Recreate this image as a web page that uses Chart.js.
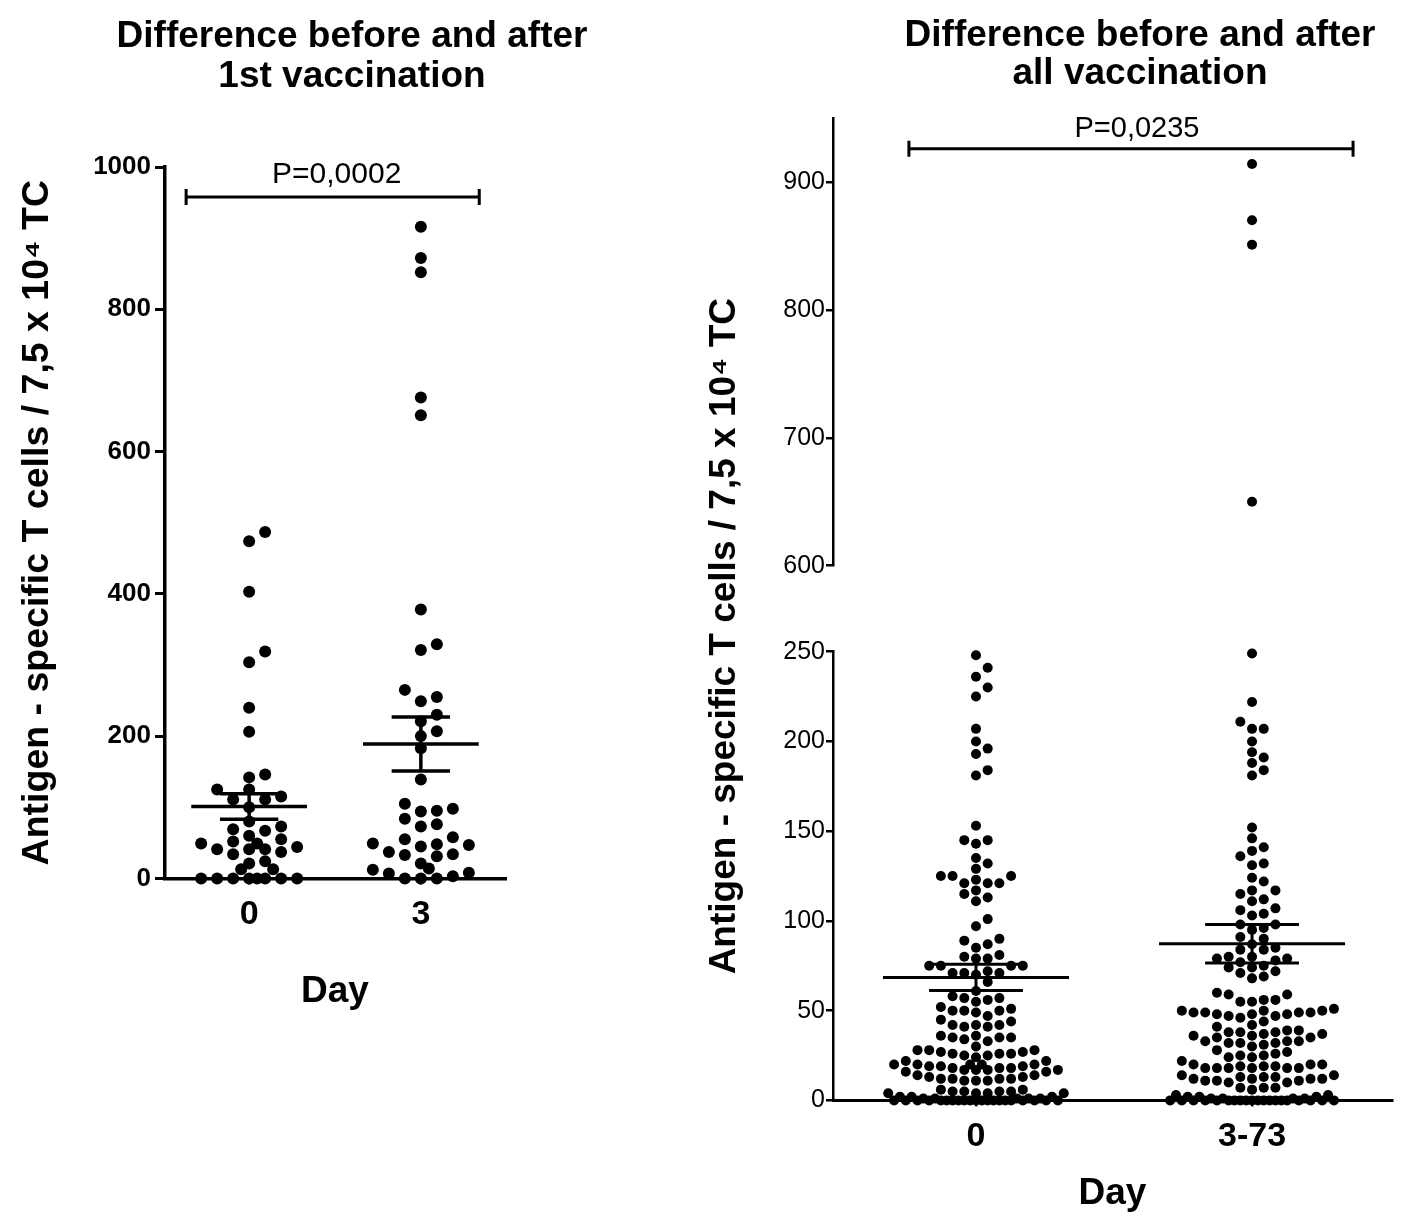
<!DOCTYPE html>
<html><head><meta charset="utf-8">
<script src="https://cdn.jsdelivr.net/npm/chart.js@4/dist/chart.umd.min.js"></script>
<style>
html,body{margin:0;padding:0;background:#fff;overflow:hidden;}
#wrap{position:relative;width:1417px;height:1232px;overflow:hidden;background:#fff;}
#c1{position:absolute;left:0;top:0;}
#c2{position:absolute;left:660px;top:0;}
</style></head><body>
<div id="wrap"><canvas id="c1" width="704" height="1232"></canvas><canvas id="c2" width="960" height="1232"></canvas></div>
<script>
// ---------- data ----------
const leftTitle = ['Difference before and after', '1st vaccination'];
const rightTitle = ['Difference before and after', 'all vaccination'];
const yAxisTitle = 'Antigen - specific T cells / 7,5 x 10\u2074 TC';
const xAxisTitle = 'Day';
const leftCategories = ['0', '3'];
const rightCategories = ['0', '3-73'];
const leftTicks = [0, 200, 400, 600, 800, 1000];
const rightLowTicks = [0, 50, 100, 150, 200, 250];
const rightHighTicks = [600, 700, 800, 900];
const rightBreak = 250;

const leftDay0 = [487, 474, 403, 319, 304, 240, 206, 146, 142, 125, 125, 115, 111, 111, 100, 80, 73, 69, 67, 60,
  55, 52, 49, 49, 44, 41, 41, 41, 37, 34, 24, 21, 13, 13, 0, 0, 0, 0, 0, 0, 0, 0];
const leftDay3 = [916, 872, 852, 676, 651, 378, 329, 321, 265, 255, 249, 230, 221, 207, 200, 183, 139, 105, 98, 95,
  94, 84, 73, 76, 55, 58, 49, 47, 48, 45, 37, 34, 33, 31, 21, 14, 12, 8, 7, 3, 0, 0, 0];

const rightDay0 = [248, 241, 236, 230, 225, 207, 200, 196, 193, 184, 181, 153, 145, 145, 143, 135, 132, 129,
  125, 125, 125, 123, 121, 121, 121, 117, 115, 113, 111, 101, 97, 90, 89, 87, 85, 81, 80, 79, 79, 75, 75, 75, 75, 72, 71, 71, 71, 70, 66,
  61, 58, 57, 57, 56, 55, 52, 51, 50, 50, 50, 49, 47, 45, 44, 42, 42, 42, 41, 41, 36, 36, 35, 35, 35, 34, 33, 30,
  28, 28, 28, 27, 27, 26, 26, 26, 25, 25, 24, 22, 22, 20, 20,
  20, 20, 20, 19, 19, 19, 18, 18, 18, 17, 17, 17, 17, 16, 16,
  14, 14, 13, 13, 12, 12, 12, 12, 11, 11, 11,
  6, 6, 5, 5, 5, 5, 4, 4, 4, 4,
  2, 2, 2, 1, 1, 1, 1, 1, 0, 0, 0, 0, 0, 0, 0, 0, 0, 0, 0, 0, 0, 0, 0, 0, 0, 0, 0, 0, 0];
const rightDay373 = [914, 870, 851, 650,
  249, 222, 211, 207, 207, 200, 194, 191, 188, 184, 181, 152, 146, 141, 139, 136, 132, 131,
  124, 122, 117, 117, 115, 112, 111, 107, 106, 104, 103, 98, 98, 96, 95, 91, 90, 87, 85, 84, 84, 80, 80, 79, 79, 78, 77, 75, 74, 74, 72, 71, 69, 68,
  60, 59, 59, 56, 56, 55, 55, 51, 50, 50, 50, 49, 49, 49, 49, 48, 48, 48, 47, 47, 46,
  44, 42, 41, 39, 39, 38, 38, 38, 37, 37, 36, 36, 35, 35, 33, 33, 33, 32, 32, 32, 31, 30,
  28, 27, 26, 25, 25, 24, 24, 22,
  20, 20, 20, 19, 19, 19, 18, 18, 18, 18, 18, 18,
  14, 14, 13, 13, 13, 12, 12, 12, 12, 11, 11, 11, 10, 10,
  7, 7, 7, 6,
  3, 3, 2, 2, 2, 1, 1, 1, 1, 0, 0, 0, 0, 0, 0, 0, 0, 0, 0, 0, 0, 0, 0, 0, 0, 0, 0, 0, 0];

const leftMeans = [101, 189];
const leftSems = [18, 38];
const rightMeans = [68.5, 87.3];
const rightSems = [7.3, 10.7];
const leftP = 'P=0,0002';
const rightP = 'P=0,0235';

// ---------- helpers ----------
const FONT = "'Liberation Sans', Arial, Helvetica, sans-serif";
Chart.defaults.font.family = FONT;
Chart.defaults.color = '#000';

function dotDataset(values, group, axisId, radius) {
  return {
    data: values.map(v => ({x: group, y: v})), yAxisID: axisId, swarmGroup: group,
    pointRadius: radius, pointHoverRadius: radius, backgroundColor: '#000', borderColor: '#000',
    pointBorderWidth: 0, borderWidth: 0, showLine: false, clip: false
  };
}
function segDataset(pts, axisId, width) {
  return {data: pts, yAxisID: axisId, showLine: true, borderColor: '#000', borderWidth: width,
    pointRadius: 0, pointHoverRadius: 0, clip: false, fill: false, tension: 0};
}
function errorBars(group, mean, sem, axisId, width) {
  const hm = 0.337, hs = 0.17;
  return [
    segDataset([{x: group - hm, y: mean}, {x: group + hm, y: mean}], axisId, width),
    segDataset([{x: group - hs, y: mean + sem}, {x: group + hs, y: mean + sem}], axisId, width),
    segDataset([{x: group - hs, y: mean - sem}, {x: group + hs, y: mean - sem}], axisId, width),
    segDataset([{x: group, y: mean - sem}, {x: group, y: mean + sem}], axisId, width)
  ];
}
function swarm(pys, step, minDist, maxK) {
  const order = pys.map((y, i) => i).sort((a, b) => pys[b] - pys[a]);
  const cols = [0];
  for (let k = 1; k <= maxK; k++) cols.push(k, -k);
  for (let k = 0; k <= maxK; k++) cols.push(k + 0.5, -(k + 0.5));
  const last = {};
  const out = new Array(pys.length);
  for (const i of order) {
    const y = pys[i];
    let chosen = null;
    for (const c of cols) {
      if (last[c] === undefined || last[c] - y >= minDist) { chosen = c; break; }
    }
    if (chosen === null) {
      let best = -Infinity;
      for (const c of cols) { const g = last[c] - y; if (g > best) { best = g; chosen = c; } }
    }
    last[chosen] = y;
    out[i] = chosen * step;
  }
  return out;
}
function applySwarm(chart, step, minDist, maxK) {
  const xs = chart.scales.x;
  const ppu = xs.getPixelForValue(1) - xs.getPixelForValue(0);
  const groups = {};
  chart.data.datasets.forEach(ds => {
    if (ds.swarmGroup === undefined) return;
    (groups[ds.swarmGroup] = groups[ds.swarmGroup] || []).push(ds);
  });
  Object.keys(groups).forEach(g => {
    const pts = [];
    groups[g].forEach(ds => {
      const ys = chart.scales[ds.yAxisID];
      ds.data.forEach((p, j) => pts.push({ds, j, py: ys.getPixelForValue(p.y)}));
    });
    const offs = swarm(pts.map(q => q.py), step, minDist, maxK);
    groups[g].forEach(ds => { ds.data = ds.data.map(p => ({x: p.x, y: p.y})); });
    pts.forEach((q, i) => { q.ds.data[q.j].x = Number(g) + offs[i] / ppu; });
  });
  chart.update('none');
}
const bracketPlugin = {
  id: 'bracket',
  afterDatasetsDraw(chart, args, o) {
    const ctx = chart.ctx, xs = chart.scales.x, ys = chart.scales[o.axis];
    const x1 = xs.getPixelForValue(o.from), x2 = xs.getPixelForValue(o.to), y = ys.getPixelForValue(o.y);
    ctx.save();
    ctx.strokeStyle = '#000'; ctx.lineWidth = o.width; ctx.beginPath();
    ctx.moveTo(x1, y); ctx.lineTo(x2, y);
    ctx.moveTo(x1, y - o.cap); ctx.lineTo(x1, y + o.cap);
    ctx.moveTo(x2, y - o.cap); ctx.lineTo(x2, y + o.cap);
    ctx.stroke();
    ctx.font = o.font; ctx.fillStyle = '#000'; ctx.textAlign = 'center'; ctx.textBaseline = 'middle';
    ctx.fillText(o.text, (x1 + x2) / 2 + o.dx, y - o.gap);
    ctx.restore();
  }
};
const sideTitlePlugin = {
  id: 'sideTitle',
  afterDraw(chart, args, o) {
    if (!o.text) return;
    const ctx = chart.ctx, a = chart.chartArea;
    ctx.save();
    ctx.translate(a.left - o.dx, (a.top + a.bottom) / 2 + o.dy);
    ctx.rotate(-Math.PI / 2);
    ctx.font = o.font; ctx.fillStyle = '#000'; ctx.textAlign = 'center'; ctx.textBaseline = 'middle';
    ctx.fillText(o.text, 0, 0);
    ctx.restore();
  }
};
function setTicks(list) { return s => { s.ticks = list.map(v => ({value: v})); }; }
function spacer(width) {
  return {type: 'linear', position: 'right', display: true, min: 0, max: 1,
    afterFit: s => { s.width = width; },
    ticks: {display: false}, grid: {display: false}, border: {display: false}};
}

// ---------- left chart ----------
const leftDatasets = [
  dotDataset(leftDay0, 0, 'y', 6),
  dotDataset(leftDay3, 1, 'y', 6),
  ...errorBars(0, leftMeans[0], leftSems[0], 'y', 3.5),
  ...errorBars(1, leftMeans[1], leftSems[1], 'y', 3.5)
];
const c1 = new Chart(document.getElementById('c1'), {
  type: 'scatter',
  data: {datasets: leftDatasets},
  plugins: [bracketPlugin],
  options: {
    responsive: false, animation: false, events: [],
    layout: {padding: {left: 0, right: 0, top: 0, bottom: 218.4}},
    plugins: {
      legend: {display: false}, tooltip: {enabled: false},
      title: {display: true, text: leftTitle, color: '#000',
        font: {size: 37, weight: 'bold', lineHeight: '40px'}, padding: {top: 17, bottom: 70}},
      bracket: {axis: 'y', from: -0.367, to: 1.34, y: 958, cap: 8, width: 3, text: leftP,
        font: "30px " + FONT, dx: 4, gap: 22}
    },
    scales: {
      x: {type: 'linear', min: -0.49, max: 1.49,
        afterBuildTicks: s => { s.ticks = leftCategories.map((c, i) => ({value: i})); },
        ticks: {callback: (v, i) => leftCategories[i], font: {size: 34, weight: 'bold'}, padding: 10,
          autoSkip: false, maxRotation: 0, color: '#000'},
        grid: {display: true, drawOnChartArea: false, drawTicks: true, tickLength: 6, color: '#000', lineWidth: 3},
        border: {display: true, color: '#000', width: 3.5},
        title: {display: true, text: xAxisTitle, color: '#000', font: {size: 37, weight: 'bold'}, padding: {top: 24, bottom: 0}}
      },
      y: {type: 'linear', position: 'left', min: 0, max: 1000,
        afterBuildTicks: setTicks(leftTicks),
        afterFit: s => { s.width = 165; },
        ticks: {callback: v => String(v), font: {size: 26, weight: 'bold'}, padding: 4, color: '#000'},
        grid: {display: true, drawOnChartArea: false, drawTicks: true, tickLength: 10, color: '#000', lineWidth: 3},
        border: {display: true, color: '#000', width: 3.5},
        title: {display: true, text: yAxisTitle, color: '#000', font: {size: 37.5, weight: 'bold'}, padding: {top: 15.5, bottom: 0}}
      },
      pad: spacer(199)
    }
  }
});
applySwarm(c1, 16, 12, 3);

// ---------- right chart ----------
const r0Low = rightDay0.filter(v => v <= rightBreak), r0High = rightDay0.filter(v => v > rightBreak);
const r1Low = rightDay373.filter(v => v <= rightBreak), r1High = rightDay373.filter(v => v > rightBreak);
const rightDatasets = [
  dotDataset(r0Low, 0, 'yLow', 5), dotDataset(r0High, 0, 'yHigh', 5),
  dotDataset(r1Low, 1, 'yLow', 5), dotDataset(r1High, 1, 'yHigh', 5),
  ...errorBars(0, rightMeans[0], rightSems[0], 'yLow', 3),
  ...errorBars(1, rightMeans[1], rightSems[1], 'yLow', 3)
];
const yStyle = (ticks) => ({
  type: 'linear', position: 'left', stack: 'r',
  afterBuildTicks: setTicks(ticks),
  afterFit: s => { s.width = 173; },
  ticks: {callback: v => String(v), font: {size: 25}, padding: 1, color: '#000'},
  grid: {display: true, drawOnChartArea: false, drawTicks: true, tickLength: 7, color: '#000', lineWidth: 2.5},
  border: {display: true, color: '#000', width: 2.5}
});
const c2 = new Chart(document.getElementById('c2'), {
  type: 'scatter',
  data: {datasets: rightDatasets},
  plugins: [bracketPlugin, sideTitlePlugin],
  options: {
    responsive: false, animation: false, events: [],
    layout: {padding: {left: 0, right: 0, top: 0, bottom: 16.4}},
    plugins: {
      legend: {display: false}, tooltip: {enabled: false},
      title: {display: true, text: rightTitle, color: '#000',
        font: {size: 37, weight: 'bold', lineHeight: '38px'}, padding: {top: 17, bottom: 25}},
      bracket: {axis: 'yHigh', from: -0.243, to: 1.366, y: 926, cap: 8, width: 3, text: rightP,
        font: "29px " + FONT, dx: 6, gap: 20},
      sideTitle: {text: yAxisTitle, font: "bold 37px " + FONT, dx: 108, dy: 27}
    },
    scales: {
      x: {type: 'linear', min: -0.518, max: 1.507,
        afterBuildTicks: s => { s.ticks = rightCategories.map((c, i) => ({value: i})); },
        ticks: {callback: (v, i) => rightCategories[i], font: {size: 34, weight: 'bold'}, padding: 10,
          autoSkip: false, maxRotation: 0, color: '#000'},
        grid: {display: true, drawOnChartArea: false, drawTicks: true, tickLength: 6, color: '#000', lineWidth: 2.5},
        border: {display: true, color: '#000', width: 3},
        title: {display: true, text: xAxisTitle, color: '#000', font: {size: 37, weight: 'bold'}, padding: {top: 4, bottom: 0}}
      },
      yHigh: Object.assign(yStyle(rightHighTicks), {min: 600, max: 950, stackWeight: 448, weight: 3}),
      yGap: {type: 'linear', position: 'left', stack: 'r', stackWeight: 86, weight: 2, min: 0, max: 1,
        afterFit: s => { s.width = 173; },
        ticks: {display: false}, grid: {display: false}, border: {display: false}},
      yLow: Object.assign(yStyle(rightLowTicks), {min: 0, max: 250, stackWeight: 449, weight: 1}),
      pad: spacer(228)
    }
  }
});
applySwarm(c2, 11.7, 10.2, 7);
</script>
</body></html>
